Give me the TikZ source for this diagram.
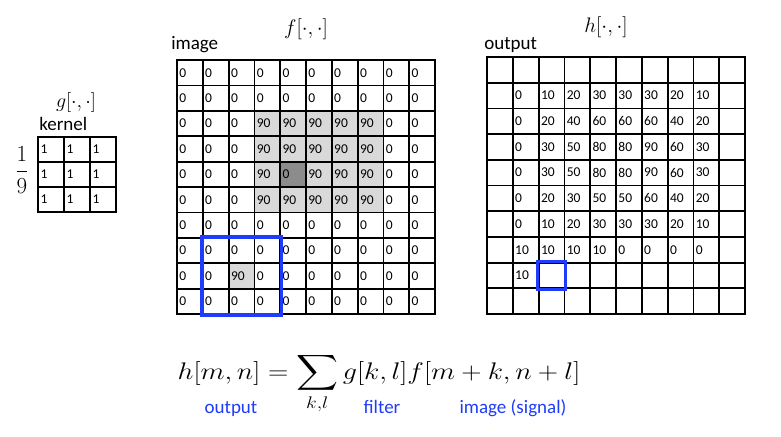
\documentclass[tikz,border=0pt]{standalone}
\usepackage{fix-cm}
\usepackage{amsmath}
\usepackage[no-math]{fontspec}
\setmainfont{Carlito}
\usepackage{graphicx}
\usetikzlibrary{positioning, backgrounds}
\definecolor{boxblue}{RGB}{30,60,250}
\definecolor{lightcell}{RGB}{217,217,217}
\definecolor{darkcell}{RGB}{140,140,140}
\tikzset{
  cell/.style={draw, line width=1.8pt, minimum width=25.8pt, minimum height=25.4pt, text width=21pt, inner sep=2pt, align=left, font=\fontsize{13.5}{15}\selectfont},
  ocell/.style={cell, minimum height=25.7pt},
  kcell/.style={cell, minimum width=26pt, minimum height=25pt},
  tag/.style={font=\fontsize{19}{22}\selectfont, inner sep=0pt},
  note/.style={tag, text=boxblue},
  window/.style={draw=boxblue, line width=3.2pt},
  mathlabel/.style={font=\fontsize{21}{24}\selectfont, inner sep=0pt},
}

\begin{document}
\begin{tikzpicture}[x=1pt, y=-1pt]
\useasboundingbox (0,0) rectangle (781,436);

% kernel g
\foreach \row [count=\r] in {{1,1,1},{1,1,1},{1,1,1}}
  \foreach \v [count=\c] in \row
    \node[kcell] (ker-\r-\c) at ({38+26*(\c-0.5)}, {137+25*(\r-0.5)}) {\v};

% image f
\foreach \row [count=\r] in {
  {0,0,0,0,0,0,0,0,0,0},
  {0,0,0,0,0,0,0,0,0,0},
  {0,0,0,90,90,90,90,90,0,0},
  {0,0,0,90,90,90,90,90,0,0},
  {0,0,0,90,0,90,90,90,0,0},
  {0,0,0,90,90,90,90,90,0,0},
  {0,0,0,0,0,0,0,0,0,0},
  {0,0,0,0,0,0,0,0,0,0},
  {0,0,90,0,0,0,0,0,0,0},
  {0,0,0,0,0,0,0,0,0,0}}
  \foreach \v [count=\c] in \row
    \node[cell] (img-\r-\c) at ({177+25.8*(\c-0.5)}, {60+25.4*(\r-0.5)}) {\v};

% output h
\foreach \row [count=\r] in {
  {{},{},{},{},{},{},{},{},{},{}},
  {{},0,10,20,30,30,30,20,10,{}},
  {{},0,20,40,60,60,60,40,20,{}},
  {{},0,30,50,80,80,90,60,30,{}},
  {{},0,30,50,80,80,90,60,30,{}},
  {{},0,20,30,50,50,60,40,20,{}},
  {{},0,10,20,30,30,30,20,10,{}},
  {{},10,10,10,10,0,0,0,0,{}},
  {{},10,{},{},{},{},{},{},{},{}},
  {{},{},{},{},{},{},{},{},{},{}}}
  \foreach \v [count=\c] in \row
    \node[ocell] (out-\r-\c) at ({487+25.8*(\c-0.5)}, {57+25.7*(\r-0.5)}) {\v};

\begin{scope}[on background layer]
  \fill[white] (0,0) rectangle (781,436);
  \fill[lightcell] (img-3-4.north west) rectangle (img-6-8.south east);
  \fill[darkcell] (img-5-5.north west) rectangle (img-5-5.south east);
  \fill[lightcell] (img-9-3.north west) rectangle (img-9-3.south east);
\end{scope}

\draw[window] (img-8-2.north west) rectangle (img-10-4.south east);
\draw[window] (out-9-3.north west) rectangle (out-9-3.south east);

% labels
\node[tag, anchor=base west] (imglabel) at ([xshift=-5pt, yshift=10pt]img-1-1.north west) {image};
\node[tag, anchor=base west] (outlabel) at ([xshift=-2pt, yshift=7pt]out-1-1.north west) {output};
\node[tag, anchor=base west] (kerlabel) at ([xshift=2pt, yshift=6pt]ker-1-1.north west) {kernel};
\node[mathlabel] (flabel) at (306,29) {$f[\cdot,\cdot]$};
\node[mathlabel] (hlabel) at (606,27) {$h[\cdot,\cdot]$};
\node[mathlabel, font=\fontsize{20}{24}\selectfont] (glabel) at (76,102) {$g[\cdot,\cdot]$};
\node[font=\fontsize{23}{26}\selectfont, inner sep=0pt] (scale) at (22,170) {$\displaystyle\frac{1}{9}$};

% formula
\node[anchor=base, font=\fontsize{24}{28}\selectfont, inner sep=0pt] (eq) at (379,379)
  {\scalebox{1.17}[1]{$\displaystyle h[m,n]=\sum_{k,l} g[k,l]f[m+k,n+l]$}};
\node[note] (outnote) at (231,409) {output};
\node[note] (filtnote) at (382,407) {filter};
\node[note] (imgnote) at (513,408) {image (signal)};
\end{tikzpicture}
\end{document}
